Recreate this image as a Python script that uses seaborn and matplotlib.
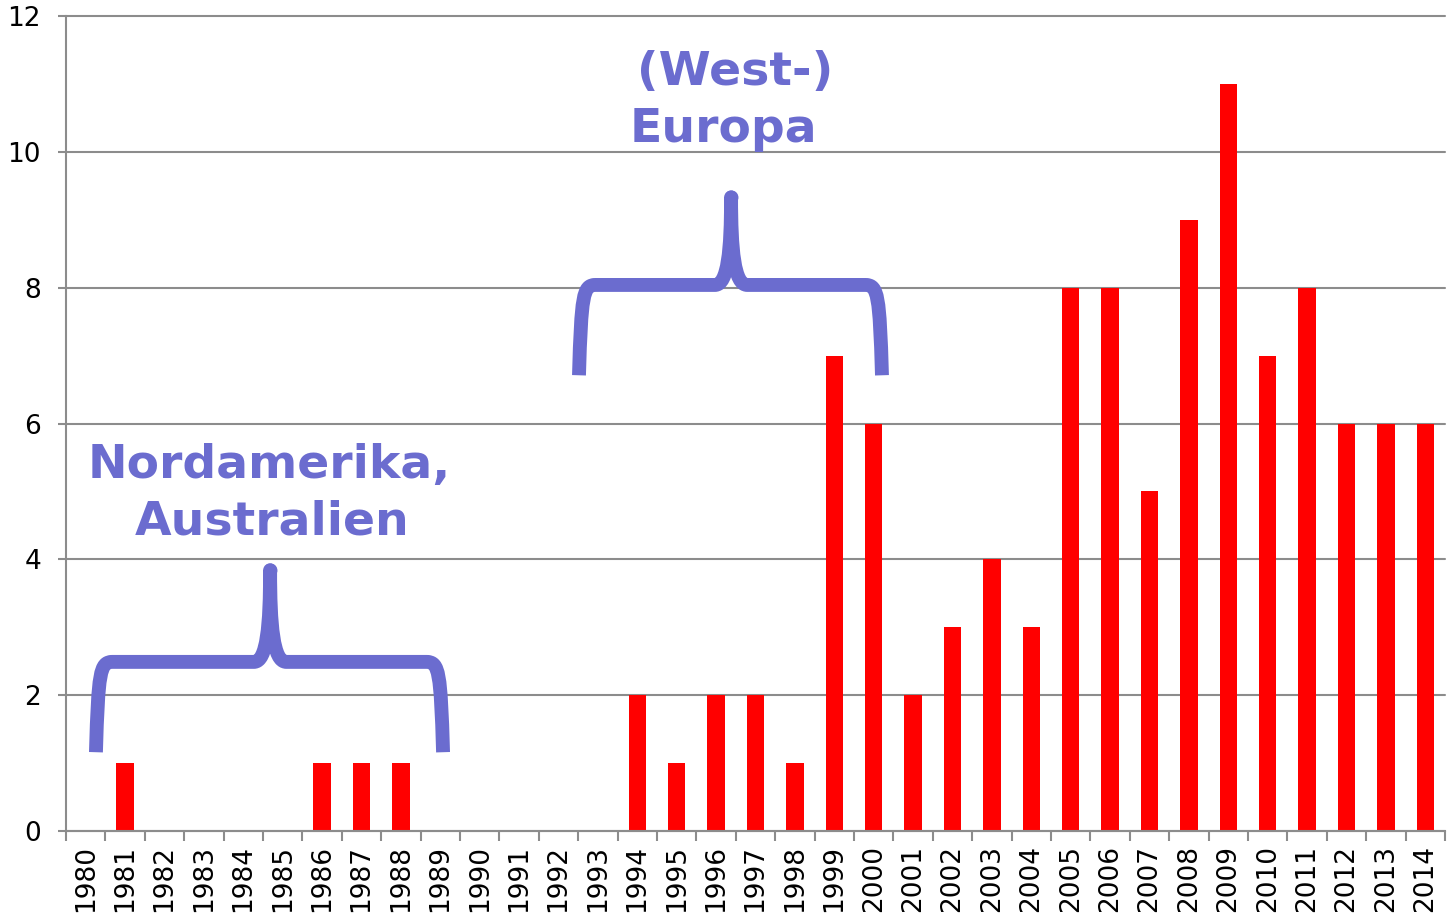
import matplotlib
matplotlib.use("Agg")
import matplotlib.pyplot as plt
from matplotlib.path import Path
from matplotlib.patches import PathPatch
import seaborn as sns
import pandas as pd

years = [str(y) for y in range(1980, 2015)]
values = [0, 1, 0, 0, 0, 0, 1, 1, 1, 0,
          0, 0, 0, 0, 2, 1, 2, 2, 1, 7,
          6, 2, 3, 4, 3, 8, 8, 5, 9, 11,
          7, 8, 6, 6, 6]
yticks = [0, 2, 4, 6, 8, 10, 12]

label_west = "(West-)"
label_europa = "Europa"
label_nord = "Nordamerika,"
label_aus = "Australien"

sns.set_theme(style="white")
plt.rcParams['font.family'] = ['DejaVu Sans']

df = pd.DataFrame({"year": years, "count": values})

W, H = 1448, 916
fig = plt.figure(figsize=(W / 100, H / 100), dpi=100)
ax = fig.add_axes([66 / W, 85 / H, 1379 / W, 815 / H])

sns.barplot(data=df, x="year", y="count", color="#FF0000", saturation=1,
            width=0.44, linewidth=0, edgecolor="none", ax=ax, zorder=3)

grid_c = "#8C8C8C"
ax.set_xlim(-0.5, len(years) - 0.5)
ax.set_ylim(0, 12)
ax.set_yticks(yticks)
ax.yaxis.grid(True, color=grid_c, linewidth=1.5, clip_on=False)
ax.set_axisbelow(True)
for s in ["top", "right"]:
    ax.spines[s].set_visible(False)
for s in ["left", "bottom"]:
    ax.spines[s].set_color(grid_c)
    ax.spines[s].set_linewidth(1.5)
ax.spines["bottom"].set_zorder(4)

ax.set_xlabel("")
ax.set_ylabel("")
ax.set_xticks(range(len(years)))
ax.set_xticklabels(years, rotation=90)
ax.set_xticks([i - 0.5 for i in range(len(years) + 1)], minor=True)
ax.tick_params(axis="x", which="major", length=0, pad=10, labelsize=19,
               labelcolor="black")
ax.tick_params(axis="x", which="minor", length=7, width=1.5, color=grid_c,
               direction="out", bottom=True)
ax.tick_params(axis="y", length=6, width=1.5, color=grid_c, direction="out",
               left=True, pad=12, labelsize=19, labelcolor="black")

brace_c = "#6B6CCF"


def brace(xl, xr, xp, yb, ym, yt):
    c = 0.42     # horizontal corner extent
    g = 0.41     # gap before peak
    verts = [
        (xl, yb),
        (xl + 0.06, ym - 0.12 * (ym - yb)), (xl + 0.1, ym), (xl + c, ym),
        (xp - g, ym),
        (xp - 0.08, ym), (xp, ym + 0.4 * (yt - ym)), (xp, yt),
        (xp, ym + 0.4 * (yt - ym)), (xp + 0.08, ym), (xp + g, ym),
        (xr - c, ym),
        (xr - 0.1, ym), (xr - 0.06, ym - 0.12 * (ym - yb)), (xr, yb),
    ]
    codes = [Path.MOVETO,
             Path.CURVE4, Path.CURVE4, Path.CURVE4,
             Path.LINETO,
             Path.CURVE4, Path.CURVE4, Path.CURVE4,
             Path.CURVE4, Path.CURVE4, Path.CURVE4,
             Path.LINETO,
             Path.CURVE4, Path.CURVE4, Path.CURVE4]
    patch = PathPatch(Path(verts, codes), facecolor="none", edgecolor=brace_c,
                      linewidth=10, capstyle="butt", joinstyle="round",
                      zorder=5, clip_on=False)
    ax.add_patch(patch)
    ax.plot([xp], [yt], marker="o", markersize=10, color=brace_c,
            markeredgewidth=0, zorder=6, clip_on=False)


brace(12.52, 20.21, 16.38, 6.71, 8.04, 9.33)
brace(0.26, 9.07, 4.68, 1.16, 2.49, 3.84)

tkw = dict(color=brace_c, fontsize=34, fontweight="bold", ha="center",
           va="baseline", zorder=7)
ax.text(16.48, 10.98, label_west, **tkw)
ax.text(16.18, 10.14, label_europa, **tkw)
ax.text(4.65, 5.20, label_nord, **tkw)
ax.text(4.72, 4.36, label_aus, **tkw)

fig.savefig("out.png", dpi=100)
